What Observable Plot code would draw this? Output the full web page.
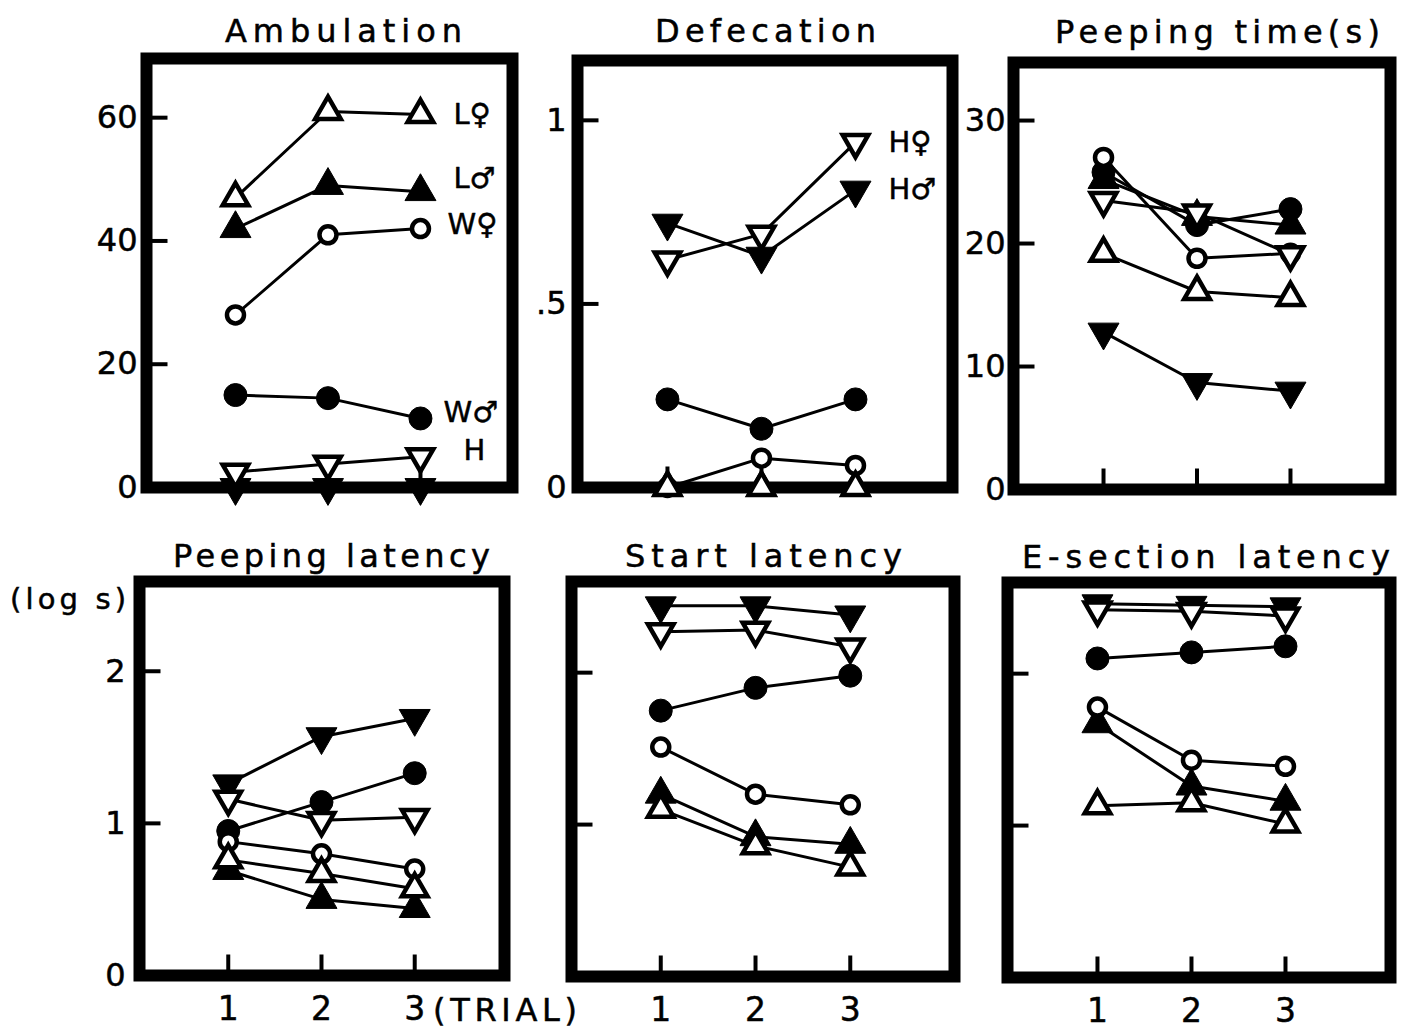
<!DOCTYPE html>
<html>
<head>
<meta charset="utf-8">
<script src="https://cdn.jsdelivr.net/npm/d3@7"></script>
<script src="https://cdn.jsdelivr.net/npm/@observablehq/plot@0.6"></script>
<style>
  body { margin: 0; background: #fff; }
  #chart { position: relative; width: 1407px; height: 1033px; background: #fff; overflow: hidden; font-family: "DejaVu Sans", sans-serif; color: #000; }
  .t { position: absolute; white-space: nowrap; line-height: 1; color: #000; -webkit-text-stroke: 0.5px #000; }
</style>
</head>
<body>
<div id="chart"></div>
<script>
// ---- data ----
const trials = [1, 2, 3];
const groups = ["L♀", "L♂", "W♀", "W♂", "H♀", "H♂"];

// rows follow `groups` order, columns follow `trials`
const ambulation = [
  [47, 61, 60.5],
  [42, 49, 48],
  [28, 41, 42],
  [15, 14.5, 11.2],
  [2.5, 3.8, 5],
  [0, 0, 0]
];
const defecation = [
  [0, 0, 0],
  [0, 0, 0],
  [0, 0.08, 0.06],
  [0.24, 0.16, 0.24],
  [0.62, 0.69, 0.94],
  [0.72, 0.63, 0.81]
];
const peepingTime = [
  [19.2, 16.1, 15.6],
  [25.2, 22.2, 21.5],
  [27, 18.8, 19.2],
  [25.8, 21.5, 22.8],
  [23.5, 22.5, 19.1],
  [12.8, 8.7, 8.0]
];
const peepingLatency = [
  [0.76, 0.67, 0.57],
  [0.69, 0.5, 0.44],
  [0.88, 0.8, 0.7],
  [0.95, 1.14, 1.33],
  [1.16, 1.02, 1.04],
  [1.26, 1.57, 1.69]
];
const startLatency = [
  [1.1, 0.86, 0.72],
  [1.2, 0.92, 0.87],
  [1.51, 1.2, 1.13],
  [1.75, 1.9, 1.98],
  [2.27, 2.28, 2.17],
  [2.44, 2.44, 2.38]
];
const eSectionLatency = [
  [1.13, 1.15, 1.01],
  [1.67, 1.26, 1.16],
  [1.78, 1.43, 1.39],
  [2.1, 2.14, 2.18],
  [2.42, 2.41, 2.38],
  [2.46, 2.45, 2.44]
];

// tick values and labels
const ambulationTicks = [0, 20, 40, 60];
const ambulationTickLabels = ["0", "20", "40", "60"];
const defecationTicks = [0, 0.5, 1];
const defecationTickLabels = ["0", ".5", "1"];
const peepingTimeTicks = [0, 10, 20, 30];
const peepingTimeTickLabels = ["0", "10", "20", "30"];
const latencyTicks = [0, 1, 2];
const latencyTickLabels = ["0", "1", "2"];

// panel titles and captions
const titles = ["Ambulation", "Defecation", "Peeping time(s)", "Peeping latency", "Start latency", "E-section latency"];
const yUnitCaption = "(log s)";
const xUnitCaption = "(TRIAL)";

// series labels
const ambulationLabels = ["L♀", "L♂", "W♀", "W♂", "H"];
const ambulationLabelSeries = ["L♀", "L♂", "W♀", "W♂", "H♀"];
const defecationLabels = ["H♀", "H♂"];
const defecationLabelSeries = ["H♀", "H♂"];

// ---- helpers ----
function toRows(values) {
  return groups.flatMap((g, gi) => trials.map((t, ti) => ({group: g, trial: t, value: values[gi][ti]})));
}

const triDown = {
  draw(ctx, size) {
    const y = -Math.sqrt(size / (3 * Math.sqrt(3)));
    ctx.moveTo(0, -2 * y);
    ctx.lineTo(-Math.sqrt(3) * y, y);
    ctx.lineTo(Math.sqrt(3) * y, y);
    ctx.closePath();
  }
};
const tickRight = {draw(ctx) { ctx.moveTo(0, 0); ctx.lineTo(21, 0); }};
const tickUp = {draw(ctx) { ctx.moveTo(0, 0); ctx.lineTo(0, -21); }};

const markerStyle = {
  "W♂": {symbol: "circle", fill: "black", r: 11.5, strokeWidth: 1},
  "L♂": {symbol: "triangle", fill: "black", r: 11.5, strokeWidth: 1},
  "H♂": {symbol: triDown, fill: "black", r: 11.5, strokeWidth: 1},
  "W♀": {symbol: "circle", fill: "white", r: 8.5, strokeWidth: 4.5},
  "H♀": {symbol: triDown, fill: "white", r: 9.5, strokeWidth: 4.5},
  "L♀": {symbol: "triangle", fill: "white", r: 9.5, strokeWidth: 4.5}
};
const drawOrder = ["W♂", "L♂", "H♂", "W♀", "H♀", "L♀"];

const W = 1407, H = 1033;
const textInk = {fill: "black", stroke: "black", strokeWidth: 0.5};

function panel(cfg) {
  const rows = toRows(cfg.values);
  const marks = [
    Plot.dot(cfg.yTicks, {y: d => d, frameAnchor: "left", symbol: tickRight, r: 5, fill: "none", stroke: "black", strokeWidth: 4}),
    Plot.dot(trials, {x: d => d, frameAnchor: "bottom", symbol: tickUp, r: 5, fill: "none", stroke: "black", strokeWidth: 4}),
    Plot.frame({stroke: "black", strokeWidth: 12}),
    Plot.line(rows, {x: "trial", y: "value", z: "group", stroke: "black", strokeWidth: 3}),
    ...drawOrder.map(g => Plot.dot(rows.filter(d => d.group === g), {x: "trial", y: "value", stroke: "black", ...markerStyle[g]}))
  ];
  if (cfg.yTickLabels) {
    marks.push(Plot.text(cfg.yTicks, {y: d => d, text: (d, i) => cfg.yTickLabels[i], frameAnchor: "left", textAnchor: "end", dx: -cfg.pad, fontSize: 32, ...textInk}));
  }
  if (cfg.xLabels) {
    marks.push(Plot.text(trials, {x: d => d, text: d => String(d), frameAnchor: "bottom", lineAnchor: "top", dy: 21, fontSize: 33, ...textInk}));
  }
  if (cfg.labels) {
    cfg.labels.forEach((txt, i) => {
      const series = cfg.labelSeries[i];
      const last = rows.filter(d => d.group === series && d.trial === 3);
      const [dx, dy] = cfg.labelOffsets[i];
      marks.push(Plot.text(last, {x: "trial", y: "value", text: () => txt, textAnchor: "start", dx, dy, fontSize: 29, ...textInk}));
    });
  }
  return Plot.plot({
    width: W, height: H,
    marginLeft: cfg.left, marginRight: W - cfg.right, marginTop: cfg.top, marginBottom: H - cfg.bottom,
    x: {domain: cfg.xDomain, axis: null, label: null},
    y: {domain: cfg.yDomain, axis: null, label: null},
    style: "position:absolute;left:0;top:0;background:transparent;overflow:visible;font-family:'DejaVu Sans',sans-serif;font-size:32px;color:black;",
    marks
  });
}

const panels = [
  {values: ambulation, left: 146, right: 512, top: 58, bottom: 487, xDomain: [0.038, 3.995], yDomain: [0, 69.6],
   yTicks: ambulationTicks, yTickLabels: ambulationTickLabels, pad: 9, xLabels: false,
   labels: ambulationLabels, labelSeries: ambulationLabelSeries, labelOffsets: [[33, 0], [33, -13], [27, -4], [23, -6], [43, -6]]},
  {values: defecation, left: 577, right: 952, top: 60, bottom: 487, xDomain: [0.043, 4.032], yDomain: [0, 1.163],
   yTicks: defecationTicks, yTickLabels: defecationTickLabels, pad: 11, xLabels: false,
   labels: defecationLabels, labelSeries: defecationLabelSeries, labelOffsets: [[33, 0], [33, 0]]},
  {values: peepingTime, left: 1013, right: 1390, top: 62, bottom: 489, xDomain: [0.037, 4.07], yDomain: [0, 34.72],
   yTicks: peepingTimeTicks, yTickLabels: peepingTimeTickLabels, pad: 8, xLabels: false},
  {values: peepingLatency, left: 139, right: 504, top: 581, bottom: 975, xDomain: [0.048, 3.963], yDomain: [0, 2.59],
   yTicks: latencyTicks, yTickLabels: latencyTickLabels, pad: 14, xLabels: true},
  {values: startLatency, left: 571, right: 954, top: 581, bottom: 976, xDomain: [0.058, 4.1], yDomain: [0, 2.6],
   yTicks: latencyTicks, yTickLabels: null, xLabels: true},
  {values: eSectionLatency, left: 1007, right: 1390, top: 582, bottom: 977, xDomain: [0.043, 4.117], yDomain: [0, 2.6],
   yTicks: latencyTicks, yTickLabels: null, xLabels: true}
];

const chart = document.getElementById("chart");
panels.forEach(cfg => chart.appendChild(panel(cfg)));

// Text spread between a left and right edge, sitting on a baseline (DejaVu Sans, line-height 1)
function spreadText(text, left, right, baseline, size) {
  const d = document.createElement("div");
  d.className = "t";
  d.textContent = text;
  d.style.fontSize = size + "px";
  d.style.left = left + "px";
  d.style.top = (baseline - 0.846 * size) + "px";
  chart.appendChild(d);
  const natural = d.getBoundingClientRect().width;
  const n = Array.from(text).length;
  if (n > 1) d.style.letterSpacing = ((right - left - natural) / (n - 1)) + "px";
}
const titleBoxes = [[225, 462, 42], [655, 876, 42], [1055, 1380, 43], [173, 490, 567], [625, 902, 567], [1022, 1390, 568]];
titles.forEach((t, i) => spreadText(t, titleBoxes[i][0], titleBoxes[i][1], titleBoxes[i][2], 32));
spreadText(yUnitCaption, 10, 126, 610, 29);
spreadText(xUnitCaption, 433, 577, 1021, 32);
</script>
</body>
</html>
